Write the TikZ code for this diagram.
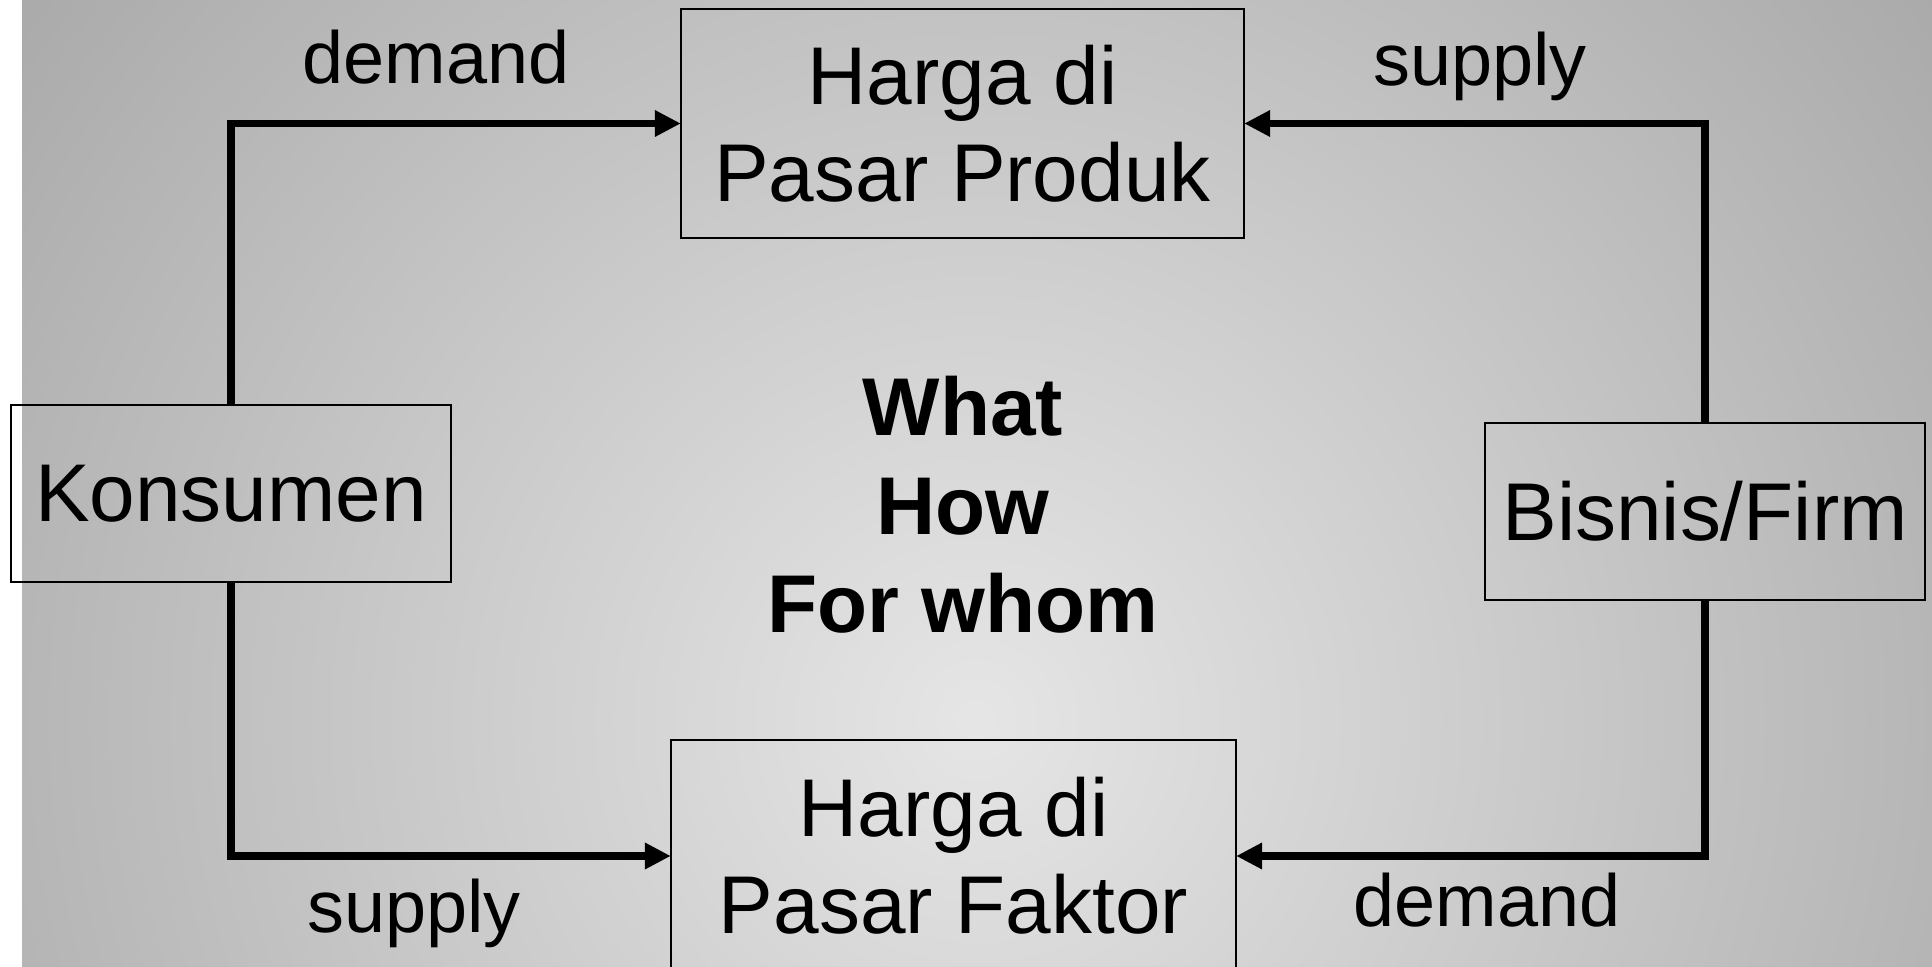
\documentclass[tikz,border=0pt]{standalone}
\usepackage{fontspec}
\setmainfont{Liberation Sans}
\usetikzlibrary{arrows.meta}
\definecolor{bgin}{gray}{0.90}
\definecolor{bgout}{gray}{0.657}
\pgfdeclareradialshading{bgshade}{\pgfpoint{0cm}{0cm}}{color(0cm)=(bgin); color(12.5cm)=(bgout)}
\begin{document}
\begin{tikzpicture}[x=0.01cm,y=-0.01cm,
  boxnode/.style={draw=black, line width=0.5pt, inner sep=0pt, outer sep=0pt, align=center, font=\fontsize{23.3}{27.5}\selectfont},
  flow/.style={line width=0.075cm, -{Triangle[length=0.26cm,width=0.25cm]}},
  lbl/.style={anchor=base, inner sep=0pt, font=\fontsize{21}{25}\selectfont},
  centertext/.style={align=center, inner sep=0pt, font=\bfseries\fontsize{23.3}{28}\selectfont}]
\useasboundingbox (0,0) rectangle (1932,967);
\fill[white] (0,0) rectangle (1932,967);
\begin{scope}
  \clip (22,0) rectangle (1932,967);
  \node[inner sep=0pt, outer sep=0pt] (bg) at (977,720) {\pgfuseshading{bgshade}};
\end{scope}
\begin{scope}
  \clip (0,0) rectangle (1932,967);
  \node[boxnode, minimum width=5.63cm, minimum height=2.29cm] (top) at (962.5,123.5) {Harga di\\Pasar Produk};
  \node[boxnode, minimum width=5.65cm, minimum height=2.32cm] (bot) at (953.5,856) {Harga di\\Pasar Faktor};
  \node[boxnode, minimum width=4.40cm, minimum height=1.77cm] (kons) at (231,493.5) {Konsumen};
  \node[boxnode, minimum width=4.40cm, minimum height=1.77cm] (bis) at (1705,511.5) {Bisnis/Firm};
  \draw[flow] (kons.north) |- (top.west);
  \draw[flow] (bis.north) |- (top.east);
  \draw[flow] (kons.south) |- (bot.west);
  \draw[flow] (bis.south) |- (bot.east);
  \node[lbl] (dtop) at (436,84) {demand};
  \node[lbl] (stop) at (1480,86) {supply};
  \node[lbl] (sbot) at (414,933) {supply};
  \node[lbl] (dbot) at (1487,927) {demand};
  \node[centertext] (q) at (963,505) {What\\How\\For whom};
\end{scope}
\end{tikzpicture}
\end{document}
